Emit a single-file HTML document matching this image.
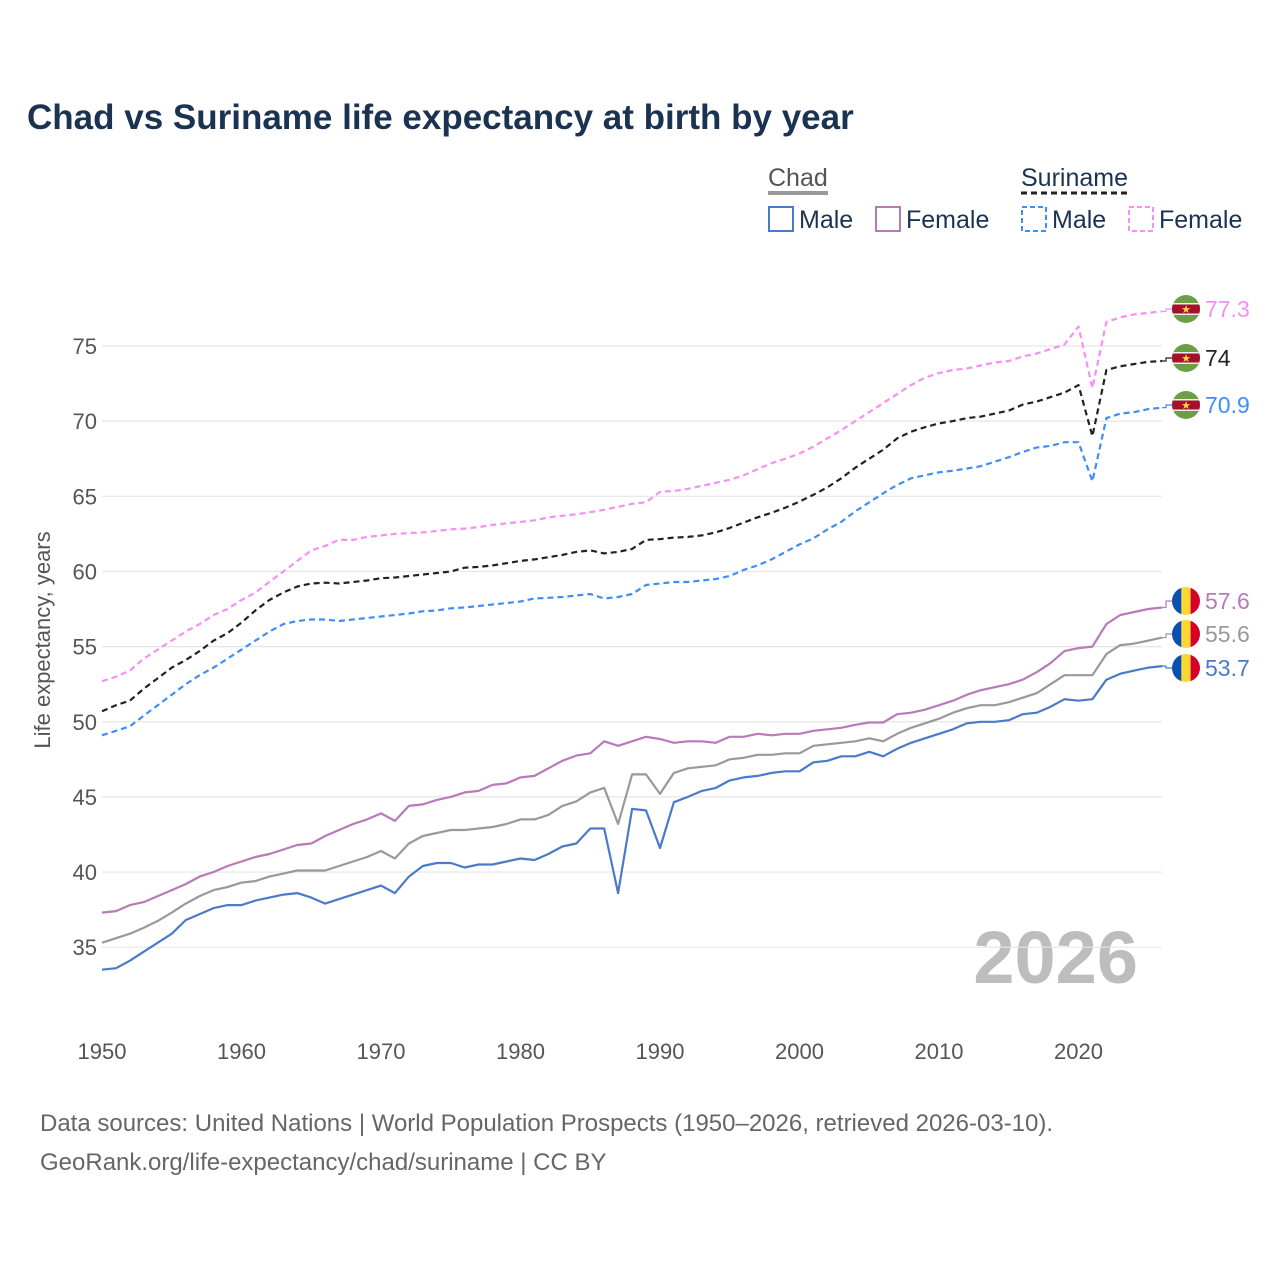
<!DOCTYPE html>
<html><head><meta charset="utf-8"><style>
body{margin:0;background:#fff;}
svg{display:block;font-family:"Liberation Sans",sans-serif;}
</style></head><body>
<svg id="chart" width="1280" height="1280" viewBox="0 0 1280 1280">
<text x="27" y="129" font-size="35" font-weight="bold" fill="#1b3352">Chad vs Suriname life expectancy at birth by year</text>
<g>
<text x="768" y="186" font-size="25" fill="#555">Chad</text>
<line x1="768" y1="193" x2="828" y2="193" stroke="#999" stroke-width="4"/>
<text x="1021" y="186" font-size="25" fill="#1b3352">Suriname</text>
<line x1="1021" y1="193" x2="1130" y2="193" stroke="#222" stroke-width="3" stroke-dasharray="6,4"/>
<rect x="769" y="207" width="24" height="24" fill="none" stroke="#4a7ac9" stroke-width="2"/>
<text x="799" y="228" font-size="25" fill="#1b3352">Male</text>
<rect x="876" y="207" width="24" height="24" fill="none" stroke="#b87ab8" stroke-width="2"/>
<text x="906" y="228" font-size="25" fill="#1b3352">Female</text>
<rect x="1022" y="207" width="24" height="24" fill="none" stroke="#3f8ef5" stroke-width="2" stroke-dasharray="5,3"/>
<text x="1052" y="228" font-size="25" fill="#1b3352">Male</text>
<rect x="1129" y="207" width="24" height="24" fill="none" stroke="#f78ff7" stroke-width="2" stroke-dasharray="5,3"/>
<text x="1159" y="228" font-size="25" fill="#1b3352">Female</text>
</g>
<text transform="translate(50,640) rotate(-90)" text-anchor="middle" font-size="22" fill="#555">Life expectancy, years</text>
<text x="1138" y="983" text-anchor="end" font-size="74" font-weight="bold" fill="#bdbdbd">2026</text>
<g id="grid"></g><g id="series"></g><g id="ends"></g>
<text x="40" y="1131" font-size="24" fill="#666">Data sources: United Nations | World Population Prospects (1950–2026, retrieved 2026-03-10).</text>
<text x="40" y="1170" font-size="24" fill="#666">GeoRank.org/life-expectancy/chad/suriname | CC BY</text>
</svg>
<script>
const startYear = 1950;
const yTicks = [35,40,45,50,55,60,65,70,75];
const xTicks = [1950,1960,1970,1980,1990,2000,2010,2020];
const chadMale = [33.5,33.6,34.1,34.7,35.3,35.9,36.8,37.2,37.6,37.8,37.8,38.1,38.3,38.5,38.6,38.3,37.9,38.2,38.5,38.8,39.1,38.6,39.7,40.4,40.6,40.6,40.3,40.5,40.5,40.7,40.9,40.8,41.2,41.7,41.9,42.9,42.9,38.6,44.2,44.1,41.6,44.65,45.0,45.4,45.6,46.1,46.3,46.4,46.6,46.7,46.7,47.3,47.4,47.7,47.7,48.0,47.7,48.2,48.6,48.9,49.2,49.5,49.9,50.0,50.0,50.1,50.5,50.6,51.0,51.5,51.4,51.5,52.8,53.2,53.4,53.6,53.7];
const chadAll = [35.3,35.6,35.9,36.3,36.75,37.3,37.9,38.4,38.8,39.0,39.3,39.4,39.7,39.9,40.1,40.1,40.1,40.4,40.7,41.0,41.4,40.9,41.9,42.4,42.6,42.8,42.8,42.9,43.0,43.2,43.5,43.5,43.8,44.4,44.7,45.3,45.6,43.2,46.5,46.5,45.2,46.6,46.9,47.0,47.1,47.5,47.6,47.8,47.8,47.9,47.9,48.4,48.5,48.6,48.7,48.9,48.7,49.2,49.6,49.9,50.2,50.6,50.9,51.1,51.1,51.3,51.6,51.9,52.5,53.1,53.1,53.1,54.5,55.1,55.2,55.4,55.6];
const chadFemale = [37.3,37.4,37.8,38.0,38.4,38.8,39.2,39.7,40.0,40.4,40.7,41.0,41.2,41.5,41.8,41.9,42.4,42.8,43.2,43.5,43.9,43.4,44.4,44.5,44.8,45.0,45.3,45.4,45.8,45.9,46.3,46.4,46.9,47.4,47.75,47.9,48.7,48.4,48.7,49.0,48.85,48.6,48.7,48.7,48.6,49.0,49.0,49.2,49.1,49.2,49.2,49.4,49.5,49.6,49.8,49.95,49.95,50.5,50.6,50.8,51.1,51.4,51.8,52.1,52.3,52.5,52.8,53.3,53.9,54.7,54.9,55.0,56.5,57.1,57.3,57.5,57.6];
const surMale = [49.1,49.4,49.7,50.4,51.1,51.8,52.5,53.1,53.6,54.2,54.8,55.4,56.0,56.5,56.7,56.8,56.8,56.7,56.8,56.9,57.0,57.1,57.2,57.35,57.4,57.55,57.6,57.7,57.8,57.9,58.0,58.2,58.25,58.3,58.4,58.5,58.2,58.3,58.5,59.1,59.2,59.3,59.3,59.4,59.5,59.7,60.1,60.4,60.8,61.3,61.8,62.2,62.8,63.3,64.0,64.6,65.2,65.75,66.2,66.4,66.6,66.7,66.85,67.0,67.3,67.6,67.95,68.25,68.35,68.6,68.6,66.0,70.2,70.5,70.6,70.8,70.9];
const surAll = [50.7,51.1,51.4,52.2,52.9,53.6,54.1,54.7,55.4,55.9,56.6,57.4,58.1,58.6,59.0,59.2,59.25,59.2,59.3,59.4,59.55,59.6,59.7,59.8,59.9,60.0,60.25,60.3,60.4,60.55,60.7,60.8,60.95,61.1,61.3,61.4,61.2,61.3,61.5,62.1,62.15,62.25,62.3,62.4,62.6,62.9,63.25,63.6,63.9,64.25,64.65,65.1,65.6,66.2,66.9,67.5,68.1,68.85,69.3,69.6,69.85,70.0,70.2,70.3,70.5,70.7,71.1,71.3,71.6,71.9,72.4,69.0,73.4,73.65,73.8,73.95,74.0];
const surFemale = [52.7,53.0,53.4,54.2,54.8,55.4,56.0,56.5,57.1,57.5,58.1,58.6,59.3,60.0,60.7,61.4,61.7,62.1,62.1,62.3,62.4,62.5,62.55,62.6,62.7,62.8,62.85,62.95,63.1,63.2,63.3,63.4,63.6,63.7,63.8,63.95,64.1,64.3,64.5,64.6,65.3,65.35,65.5,65.7,65.9,66.1,66.4,66.8,67.2,67.5,67.85,68.3,68.85,69.4,70.0,70.6,71.2,71.8,72.4,72.9,73.2,73.4,73.5,73.7,73.9,74.0,74.3,74.5,74.8,75.1,76.3,72.2,76.6,76.9,77.1,77.2,77.3];
const endLabels = ["57.6","55.6","53.7","77.3","74","70.9"];

const NS = "http://www.w3.org/2000/svg";
const X = yr => 102 + (yr - 1950) * 13.95;
const Y = v => 346 + (75 - v) * 15.03;
function mk(tag, attrs, parent){const e=document.createElementNS(NS,tag);for(const k in attrs)e.setAttribute(k,attrs[k]);parent.appendChild(e);return e;}
const grid=document.getElementById('grid'), ser=document.getElementById('series'), ends=document.getElementById('ends');
yTicks.forEach(t=>{
  const l=mk('line',{x1:102,x2:1162,y1:Y(t),y2:Y(t),stroke:'#e6e6e6','stroke-width':1.2},grid);
  
  
  const tx=mk('text',{x:97,y:Y(t)+8,'text-anchor':'end','font-size':22,fill:'#555'},grid);tx.textContent=t;
  
  
});
xTicks.forEach(t=>{
  const tx=mk('text',{x:X(t),y:1059,'text-anchor':'middle','font-size':22,fill:'#555'},grid);tx.textContent=t;
  
  
});
const defs=[
 [chadFemale,'#b87ab8',null,'chad-female-line','#b87ab8','chad'],
 [chadAll,'#999',null,'chad-total-line','#999','chad'],
 [chadMale,'#4a7ac9',null,'chad-male-line','#4a7ac9','chad'],
 [surFemale,'#f78ff7','6,4','suriname-female-line','#f78ff7','sur'],
 [surAll,'#222','6,4','suriname-total-line','#222','sur'],
 [surMale,'#3f8ef5','6,4','suriname-male-line','#3f8ef5','sur']];
const labelY=[601,634,668,309,358,405];
defs.forEach((d,i)=>{
  const arr=d[0];
  const pts=arr.map((v,k)=>X(startYear+k).toFixed(1)+','+Y(v).toFixed(1));
  const last=arr[arr.length-1];
  const p=mk('polyline',{points:pts.join(' '),fill:'none',stroke:d[1],'stroke-width':2.2,'stroke-linejoin':'round'},ser);
  if(d[2])p.setAttribute('stroke-dasharray',d[2]);
  
  
  const ly=labelY[i];
  mk('polyline',{points:`${X(startYear+arr.length-1)},${Y(last)} 1166,${Y(last)} 1166,${ly} 1172,${ly}`,fill:'none',stroke:d[1],'stroke-width':1.2},ends);
  const cx=1186, cy=ly, r=14;
  const g=mk('g',{},ends);
  
  
  const cid='c'+i;
  const cp=mk('clipPath',{id:cid},g); mk('circle',{cx:cx,cy:cy,r:r},cp);
  const fg=mk('g',{'clip-path':`url(#${cid})`},g);
  if(d[5]==='chad'){
    mk('rect',{x:cx-r,y:cy-r,width:10,height:2*r,fill:'#0d4fb0'},fg);
    mk('rect',{x:cx-r+9.3,y:cy-r,width:9.4,height:2*r,fill:'#fdd835'},fg);
    mk('rect',{x:cx-r+18.6,y:cy-r,width:10,height:2*r,fill:'#d4002a'},fg);
  } else {
    mk('rect',{x:cx-r,y:cy-r,width:2*r,height:2*r,fill:'#6a9f45'},fg);
    mk('rect',{x:cx-r,y:cy-6,width:2*r,height:12,fill:'#eee'},fg);
    mk('rect',{x:cx-r,y:cy-4.5,width:2*r,height:9,fill:'#a5102a'},fg);
    const s=mk('text',{x:cx,y:cy+4,'text-anchor':'middle','font-size':11,fill:'#ffd83a'},fg);s.textContent='★';
  }
  const t=mk('text',{x:1205,y:ly+8,'font-size':23,fill:d[4]},ends);
  t.textContent=endLabels[i];
  
  
});
</script>
</body></html>
